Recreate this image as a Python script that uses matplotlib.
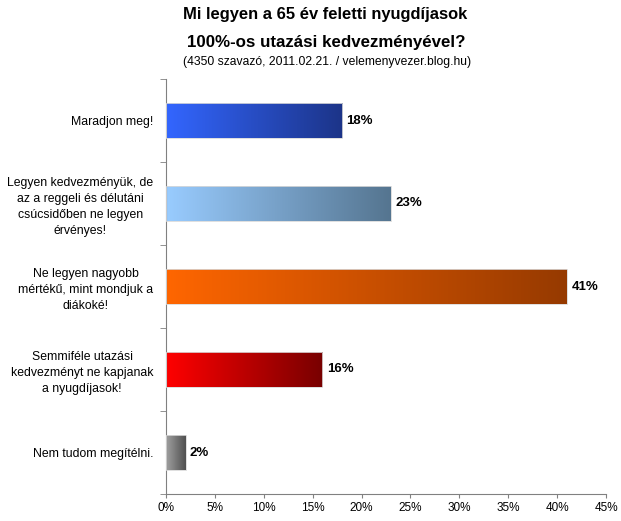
import numpy as np
import matplotlib.pyplot as plt
from matplotlib.colors import LinearSegmentedColormap

plt.rcParams['font.family'] = ['Liberation Sans', 'DejaVu Sans']

categories = [
    'Maradjon meg!',
    'Legyen kedvezményük, de\naz a reggeli és délutáni\ncsúcsidőben ne legyen\nérvényes!',
    'Ne legyen nagyobb\nmértékű, mint mondjuk a\ndiákoké!',
    'Semmiféle utazási\nkedvezményt ne kapjanak\na nyugdíjasok!',
    'Nem tudom megítélni.',
]
values = [18, 23, 41, 16, 2]
grad_start = ['#3366ff', '#99ccff', '#ff6600', '#ff0000', '#a0a0a0']
grad_end = ['#1c3488', '#557590', '#963a00', '#780000', '#505050']
xticks = [0, 5, 10, 15, 20, 25, 30, 35, 40, 45]

fig = plt.figure(figsize=(6.21, 5.21), dpi=100)
ax = fig.add_axes([166 / 621, 1 - 494 / 521, 440 / 621, 415 / 521])

ypos = np.arange(len(values))[::-1]
h = 0.41
grad = np.linspace(0, 1, 256).reshape(1, -1)
for y, v, c0, c1 in zip(ypos, values, grad_start, grad_end):
    cmap = LinearSegmentedColormap.from_list('g', [c0, c1])
    ax.imshow(grad, cmap=cmap, aspect='auto', extent=[0, v, y - h / 2, y + h / 2],
              zorder=2, interpolation='bilinear')
    ax.barh(y, v, height=h, facecolor='none', edgecolor='#d9d9d9', linewidth=0.6, zorder=3)
    ax.text(v + 0.45, y, f'{v}%', va='center', ha='left', fontsize=9.5, fontweight='bold')

ax.set_xlim(0, 45)
ax.set_ylim(-0.5, len(values) - 0.5)
ax.set_xticks(xticks)
ax.set_xticklabels([f'{t}%' for t in xticks], fontsize=8.5)
ax.set_yticks(ypos)
ax.set_yticklabels(categories, fontsize=8.8, multialignment='center', linespacing=1.45)
ax.set_yticks(np.arange(-0.5, len(values) - 0.4, 1), minor=True)
ax.tick_params(axis='y', which='major', length=0, pad=9)
ax.tick_params(axis='y', which='minor', length=4, color='#808080', direction='out')
ax.tick_params(axis='x', length=3, color='#808080', pad=3)
for s in ['top', 'right']:
    ax.spines[s].set_visible(False)
for s in ['left', 'bottom']:
    ax.spines[s].set_color('#808080')

fig.text(325 / 621, 1 - 15 / 521, 'Mi legyen a 65 év feletti nyugdíjasok', ha='center', va='center',
         fontsize=11.9, fontweight='bold')
fig.text(326 / 621, 1 - 42 / 521, '100%-os utazási kedvezményével?', ha='center', va='center',
         fontsize=12.2, fontweight='bold')
fig.text(327 / 621, 1 - 62 / 521, '(4350 szavazó, 2011.02.21. / velemenyvezer.blog.hu)', ha='center',
         va='center', fontsize=8.7)

fig.savefig('out.png', dpi=100)
